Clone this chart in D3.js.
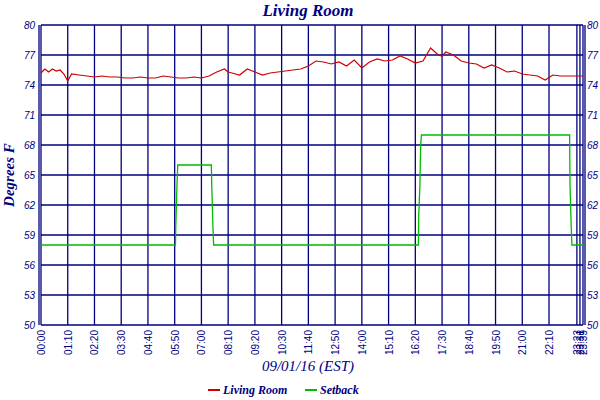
<!DOCTYPE html><html><head><meta charset="utf-8">
<script src="https://cdn.jsdelivr.net/npm/d3@7"></script>
<style>body{margin:0;background:#fff}</style></head><body>
<svg id="c" width="600" height="400"></svg>
<script>
const roomTimes=[0,10,20,30,40,50,60,70,80,100,120,140,160,180,200,220,240,260,280,300,320,340,360,380,400,420,440,460,480,490,500,520,540,560,580,600,620,640,660,680,700,720,740,760,780,800,820,840,860,880,900,920,940,960,980,1000,1020,1040,1050,1060,1080,1100,1120,1140,1160,1180,1200,1220,1240,1260,1280,1300,1320,1340,1360,1380,1400,1419];
const roomValues=[75.2,75.6,75.3,75.6,75.4,75.5,75.1,74.4,75.1,75.0,74.9,74.8,74.9,74.8,74.8,74.7,74.7,74.8,74.7,74.7,74.9,74.8,74.7,74.7,74.8,74.7,74.9,75.3,75.6,75.3,75.2,75.0,75.6,75.3,75.0,75.2,75.3,75.4,75.5,75.6,75.9,76.4,76.3,76.1,76.3,75.9,76.5,75.7,76.3,76.6,76.4,76.5,76.9,76.6,76.2,76.4,77.7,77.0,76.9,77.3,77.0,76.4,76.2,76.1,75.7,76.0,75.7,75.3,75.4,75.1,75.0,74.9,74.5,75.0,74.9,74.9,74.9,74.9];
const setTimes=[0,352,353,356,358,360,446,447,450,452,988,989,992,994,996,1384,1385,1388,1390,1419];
const setValues=[58,58,60,64,66,66,66,64,60,58,58,61,64,68,69,69,64,60,58,58];
const yTicks=[50,53,56,59,62,65,68,71,74,77,80];
const yTickLabels=["50","53","56","59","62","65","68","71","74","77","80"];
const xTicks=[0,70,140,210,280,350,420,490,560,630,700,770,840,910,980,1050,1120,1190,1260,1330,1403,1411,1419];
const xTickLabels=["00:00","01:10","02:20","03:30","04:40","05:50","07:00","08:10","09:20","10:30","11:40","12:50","14:00","15:10","16:20","17:30","18:40","19:50","21:00","22:10","23:23","23:31","23:39"];
const seriesNames=["Living Room","Setback"], seriesColors=["#cc0000","#00bb00"];

const svg=d3.select("#c"), L=41,R=583,T=25,B=325, navy="#000080";
const x=d3.scaleLinear().domain([0,1419]).range([L,R]);
const y=d3.scaleLinear().domain([50,80]).range([B,T]);
const g=svg.append("g");
xTicks.forEach(t=>g.append("line").attr("x1",x(t)).attr("x2",x(t)).attr("y1",T).attr("y2",B).attr("stroke",navy).attr("stroke-width",1.3));
yTicks.forEach(t=>g.append("line").attr("x1",L).attr("x2",R).attr("y1",y(t)).attr("y2",y(t)).attr("stroke",navy).attr("stroke-width",1.3));
g.append("line").attr("x1",L-2).attr("x2",L-2).attr("y1",T).attr("y2",B).attr("stroke",navy).attr("stroke-width",1.3);
g.append("line").attr("x1",R+2).attr("x2",R+2).attr("y1",T).attr("y2",B).attr("stroke",navy).attr("stroke-width",1.3);
const font="'Liberation Sans',sans-serif";
yTicks.forEach((t,i)=>{
 g.append("text").attr("x",L-6).attr("y",y(t)+4).attr("text-anchor","end").attr("font-size",10).attr("font-style","italic").attr("fill",navy).attr("font-family",font).text(yTickLabels[i]);
 g.append("text").attr("x",R+4).attr("y",y(t)+4).attr("font-size",10).attr("font-style","italic").attr("fill",navy).attr("font-family",font).text(yTickLabels[i]);
});
xTicks.forEach((t,i)=>{
 g.append("text").attr("transform",`translate(${x(t)+4},${B+5}) rotate(-90)`).attr("text-anchor","end").attr("font-size",10).attr("fill",navy).attr("font-family",font).text(xTickLabels[i]);
});
const line=d3.line().x(d=>x(d[0])).y(d=>y(d[1]));
g.append("path").attr("d",line(setTimes.map((t,i)=>[t,setValues[i]]))).attr("fill","none").attr("stroke",seriesColors[1]).attr("stroke-width",1.3);
g.append("path").attr("d",line(roomTimes.map((t,i)=>[t,roomValues[i]]))).attr("fill","none").attr("stroke",seriesColors[0]).attr("stroke-width",1.2);
const tf="'Liberation Serif',serif";
svg.append("text").attr("x",308).attr("y",16).attr("text-anchor","middle").attr("font-size",17).attr("font-weight","bold").attr("font-style","italic").attr("fill",navy).attr("font-family",tf).text("Living Room");
svg.append("text").attr("x",308).attr("y",371).attr("text-anchor","middle").attr("font-size",15).attr("font-style","italic").attr("fill",navy).attr("font-family",tf).text("09/01/16 (EST)");
svg.append("text").attr("transform","translate(14,175) rotate(-90)").attr("text-anchor","middle").attr("font-size",15).attr("font-weight","bold").attr("font-style","italic").attr("fill",navy).attr("font-family",tf).text("Degrees F");
[[208,0],[305,1]].forEach(([lx,i])=>{
 svg.append("line").attr("x1",lx).attr("x2",lx+12).attr("y1",390).attr("y2",390).attr("stroke",seriesColors[i]).attr("stroke-width",2);
 svg.append("text").attr("x",lx+15).attr("y",394).attr("font-size",12).attr("font-weight","bold").attr("font-style","italic").attr("fill",navy).attr("font-family",tf).text(seriesNames[i]);
});
</script></body></html>
